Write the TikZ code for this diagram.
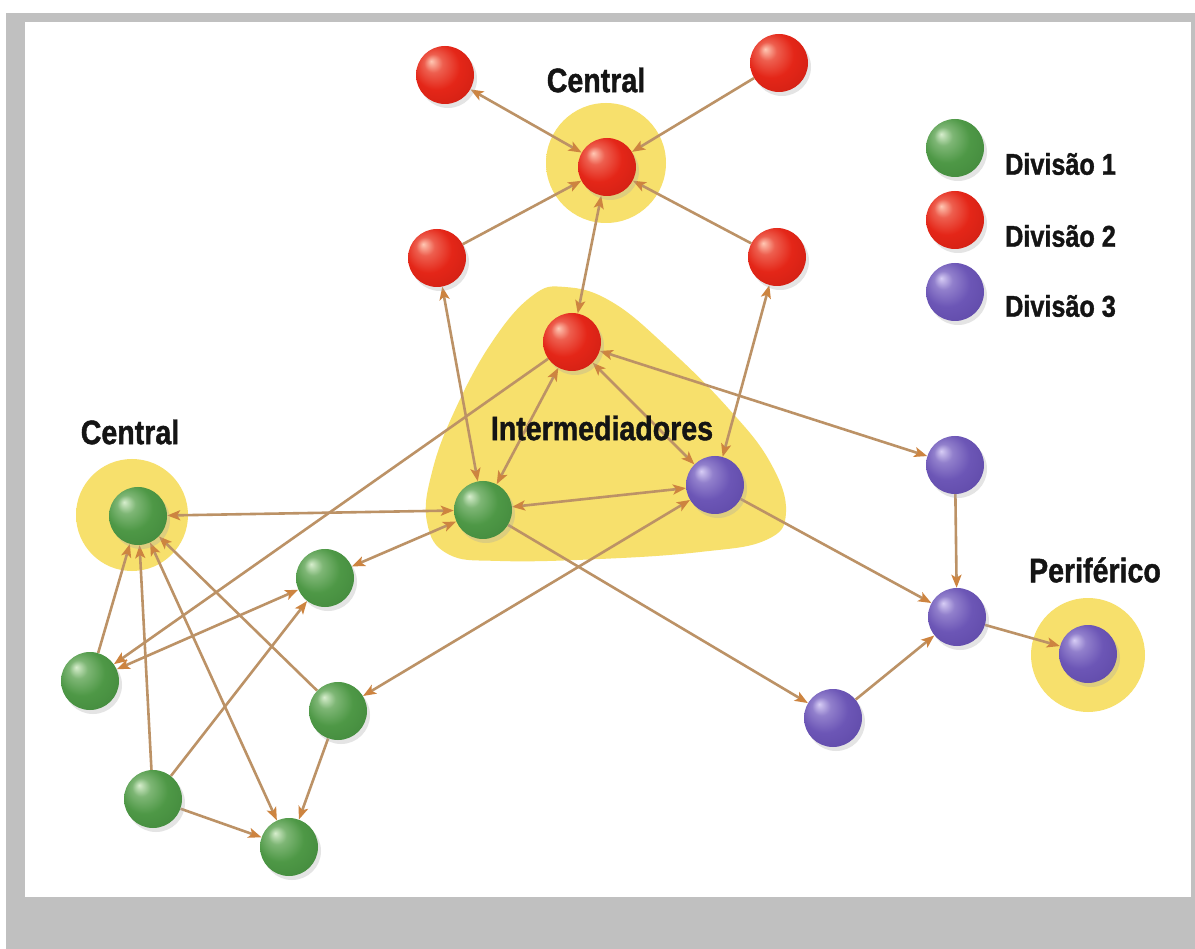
\documentclass[tikz,border=0pt]{standalone}
\usepackage{fontspec}
\newfontfamily\labfont[FakeStretch=0.84, BoldFeatures={FakeBold=1.2}]{Liberation Sans}
\usetikzlibrary{arrows.meta,shadows}

% palette
\definecolor{framegray}{RGB}{192,192,192}
\definecolor{halo}{RGB}{247,224,108}
\definecolor{linkcol}{RGB}{188,146,102}
\definecolor{tipcol}{RGB}{205,132,64}
\definecolor{inkcol}{RGB}{20,20,20}

\definecolor{redhi}{RGB}{255,200,180}
\definecolor{redmid}{RGB}{228,38,24}
\definecolor{redlo}{RGB}{150,14,8}
\definecolor{grnhi}{RGB}{215,238,205}
\definecolor{grnmid}{RGB}{78,152,70}
\definecolor{grnlo}{RGB}{36,96,36}
\definecolor{purhi}{RGB}{215,205,245}
\definecolor{purmid}{RGB}{108,86,182}
\definecolor{purlo}{RGB}{60,40,130}

% glossy spheres
\pgfdeclareradialshading{redball}{\pgfpoint{-12bp}{12bp}}{color(0bp)=(redhi); color(8bp)=(redmid!65!redhi); color(20bp)=(redmid); color(32bp)=(redmid!80!redlo); color(50bp)=(redlo)}
\pgfdeclareradialshading{greenball}{\pgfpoint{-12bp}{12bp}}{color(0bp)=(grnhi); color(8bp)=(grnmid!65!grnhi); color(20bp)=(grnmid); color(32bp)=(grnmid!80!grnlo); color(50bp)=(grnlo)}
\pgfdeclareradialshading{purpleball}{\pgfpoint{-12bp}{12bp}}{color(0bp)=(purhi); color(8bp)=(purmid!65!purhi); color(20bp)=(purmid); color(32bp)=(purmid!80!purlo); color(50bp)=(purlo)}
% soft-edged highlight disc
\pgfdeclareradialshading{haloshade}{\pgfpoint{0bp}{0bp}}{color(0bp)=(halo); color(40bp)=(halo); color(50bp)=(halo!30!white)}

\tikzset{
  spot/.style={circle, minimum size=58pt, inner sep=0pt},
  sphere/.style={spot, shading=#1,
    drop shadow={shadow xshift=3pt, shadow yshift=-4pt, fill=black!35, opacity=0.3}},
  rball/.style={sphere=redball},
  gball/.style={sphere=greenball},
  pball/.style={sphere=purpleball},
  glow/.style={circle, inner sep=0pt, minimum size=#1, shading=haloshade},
  link/.style={draw=linkcol, line width=2.6pt},
  tip/.tip={Stealth[length=13pt, width=10pt, inset=3pt, color=tipcol]},
  one/.style={link, -tip},
  two/.style={link, tip-tip},
  title/.style={text=inkcol, font=\labfont\bfseries\fontsize{34}{34}\selectfont, inner sep=0pt},
  legtext/.style={text=inkcol, font=\labfont\bfseries\fontsize{30}{30}\selectfont, inner sep=0pt, anchor=west},
}

\begin{document}
\begin{tikzpicture}[x=1pt, y=-1pt]
  % frame
  \fill[white] (0,0) rectangle (1195,949);
  \useasboundingbox (0,0) rectangle (1195,949);
  \fill[framegray] (6,13) rectangle (1195,949);
  \fill[white] (25,22) rectangle (1191,897);

  % highlighted areas
  \node[glow=120pt] (hRc) at (606,163) {};
  \node[glow=112pt] (hGc) at (132,515) {};
  \node[glow=114pt] (hPp) at (1088,655) {};
  \fill[halo] plot[smooth cycle, tension=0.7] coordinates {
    (565,287) (612,302) (668,348) (728,408) (770,462) (786,512)
    (766,540) (700,552) (600,559) (500,561) (448,554) (427,522)
    (432,472) (455,410) (492,342) (532,296)};

  % sphere positions
  \node[spot] (R1) at (445,75) {};
  \node[spot] (R2) at (779,63) {};
  \node[spot] (Rc) at (607,167) {};
  \node[spot] (R3) at (437,258) {};
  \node[spot] (R4) at (777,257) {};
  \node[spot] (Rm) at (572,342) {};

  \node[spot] (Gc) at (138,516) {};
  \node[spot] (Gm) at (483,510) {};
  \node[spot] (G2) at (325,578) {};
  \node[spot] (G3) at (90,681) {};
  \node[spot] (G4) at (338,711) {};
  \node[spot] (G5) at (153,799) {};
  \node[spot] (G6) at (289,847) {};

  \node[spot] (Pm) at (715,485) {};
  \node[spot] (P1) at (955,465) {};
  \node[spot] (P2) at (957,617) {};
  \node[spot] (P3) at (833,718) {};
  \node[spot] (Pp) at (1088,654) {};

  % connectors
  \draw[two] (R1) -- (Rc);
  \draw[one] (R2) -- (Rc);
  \draw[one] (R3) -- (Rc);
  \draw[one] (R4) -- (Rc);
  \draw[two] (Rc) -- (Rm);
  \draw[two] (R3) -- (Gm);
  \draw[two] (Rm) -- (Gm);
  \draw[two] (Rm) -- (Pm);
  \draw[two] (R4) -- (Pm);
  \draw[two] (Rm) -- (P1);
  \draw[one] (Rm) -- (G3);
  \draw[two] (Gm) -- (Pm);
  \draw[two] (G4) -- (Pm);
  \draw[one] (Gm) -- (P3);
  \draw[one] (Pm) -- (P2);
  \draw[one] (P1) -- (P2);
  \draw[one] (P3) -- (P2);
  \draw[one] (P2) -- (Pp);
  \draw[two] (Gc) -- (Gm);
  \draw[two] (Gm) -- (G2);
  \draw[two] (G3) -- (G2);
  \draw[two] (Gc) -- (G6);
  \draw[one] (G3) -- (Gc);
  \draw[one] (G5) -- (Gc);
  \draw[one] (G4) -- (Gc);
  \draw[one] (G5) -- (G2);
  \draw[one] (G5) -- (G6);
  \draw[one] (G4) -- (G6);

  % spheres on top of the connectors
  \foreach \n/\s in {R1/rball,R2/rball,Rc/rball,R3/rball,R4/rball,Rm/rball,
                     Gc/gball,Gm/gball,G2/gball,G3/gball,G4/gball,G5/gball,G6/gball,
                     Pm/pball,P1/pball,P2/pball,P3/pball,Pp/pball}
    \node[\s] at (\n) {};

  % labels
  \node[title] (tTop) at (596,80) {Central};
  \node[title] (tLeft) at (130,432) {Central};
  \node[title] (tMid) at (602,428) {Intermediadores};
  \node[title] (tPer) at (1095,570) {Periférico};

  % legend
  \node[gball] (legG) at (955,148) {};
  \node[rball] (legR) at (955,220) {};
  \node[pball] (legP) at (955,292) {};
  \node[legtext] (lg1) at (1005,164) {Divisão 1};
  \node[legtext] (lg2) at (1005,236) {Divisão 2};
  \node[legtext] (lg3) at (1005,306) {Divisão 3};
\end{tikzpicture}
\end{document}
